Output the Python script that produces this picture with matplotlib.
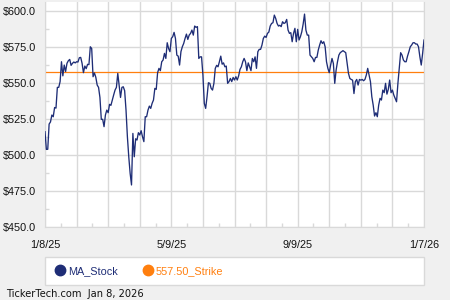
import numpy as np
import matplotlib
matplotlib.use('Agg')
from matplotlib import pyplot as plt
from matplotlib.lines import Line2D
from matplotlib.patches import Rectangle

plt.rcParams['font.family'] = ['Liberation Sans', 'DejaVu Sans']

# MA closing prices, 1/8/25 .. 1/7/26
close = [516.2, 503.9, 504.0, 521.5, 523.0, 527.8, 526.6, 533.0, 532.6, 547.0,
         547.0, 551.0, 564.8, 555.0, 562.5, 558.0, 563.7, 565.5, 566.4, 562.3,
         563.7, 564.6, 564.0, 564.8, 564.6, 567.6, 567.8, 563.7, 557.2, 561.8,
         560.0, 563.0, 562.8, 575.2, 574.0, 554.4, 557.0, 554.0, 548.6, 547.0,
         540.0, 524.8,
         524.8, 519.7, 527.8, 531.2, 529.4, 535.2, 534.5, 538.2, 541.7, 545.1,
         547.0, 556.7, 548.6, 540.0, 547.0, 547.4, 544.7, 531.2, 512.7, 498.8,
         487.3, 479.2, 515.0, 498.8, 511.3, 510.4, 515.5, 513.9, 516.9, 512.7,
         509.3, 526.6, 526.6, 531.2, 534.0, 532.4, 535.9, 538.2, 546.3, 545.6,
         557.2, 560.2, 558.6, 564.8, 566.0, 570.6,
         567.1, 578.0, 574.0, 571.8, 581.0, 582.2, 585.2, 581.0, 569.4, 568.7,
         562.5, 571.8, 575.2, 577.5, 581.0, 584.0, 580.3, 583.3, 584.5, 586.8,
         583.3, 589.6, 588.7, 589.2, 567.1, 568.2, 568.2, 555.6, 535.9, 532.4,
         540.5, 550.2, 549.8, 546.3, 545.1, 549.8, 560.2, 562.3, 561.3, 564.8,
         568.7, 563.1, 564.0, 561.3, 561.8, 549.8,
         551.0, 553.2, 551.0, 553.9, 552.1, 554.4, 552.1, 554.9, 559.5, 561.3,
         564.8, 567.1, 564.8, 558.6, 564.0, 561.3, 558.6, 567.1, 564.8, 568.2,
         560.2, 571.8, 573.4, 573.4, 576.4, 581.0, 582.6, 581.7, 584.5, 585.4,
         589.6, 591.4, 591.9, 597.2, 594.9, 591.4, 589.6, 590.1, 589.2, 592.6,
         591.4, 591.9, 594.2, 586.8, 584.5, 585.0, 578.7,
         584.5, 588.0, 578.7, 587.3, 579.9, 582.2, 585.6, 591.0, 597.9, 586.8,
         583.3, 583.3, 569.4, 568.3, 567.1, 564.8, 567.8, 567.8, 572.9, 576.4,
         579.4, 577.5, 578.7, 575.2, 564.8, 560.2, 557.2, 562.5, 567.1, 563.6,
         549.8, 559.0, 564.8, 569.4, 571.1, 571.8, 572.5, 571.8, 571.1, 563.7,
         556.7, 553.2, 552.5, 552.0, 542.7, 551.0, 552.5,
         548.6, 552.5, 552.0, 552.5, 551.6, 552.5, 555.6, 560.2, 555.6, 551.0,
         540.5, 534.7, 527.1, 529.4, 526.6, 534.7, 539.4, 538.2, 545.1, 543.3,
         549.8, 542.3, 545.6, 552.1, 543.3, 545.1, 541.7, 539.4, 537.0, 549.8,
         560.2, 571.1, 569.4, 566.0, 564.8, 564.8, 568.7, 571.8, 575.2, 576.4,
         578.0, 578.0, 577.1, 577.1, 575.2, 568.2, 562.5, 570.6, 579.9]
strike = 557.50

x_labels = ['1/8/25', '5/9/25', '9/9/25', '1/7/26']
y_ticks = [450, 475, 500, 525, 550, 575, 600]

navy = '#1e2d76'
orange = '#ff7f0e'
grid_c = '#d9d9d9'

fig = plt.figure(figsize=(4.5, 3), dpi=100, facecolor='#f0f0f0')
ax = fig.add_axes([45/450, 1-227/300, 379/450, 225/300])
ax.set_facecolor('white')

n = len(close)
x = np.arange(n)
ax.plot(x, close, color=navy, lw=0.95, zorder=3)
ax.axhline(strike, color=orange, lw=0.9, zorder=2)

ax.set_xlim(0, n-1)
ax.set_ylim(450, 606.3)

# 12 monthly gridlines, labels on every 4th
major = np.linspace(0, n-1, 13)
ax.set_xticks(major)
ax.set_xticklabels([x_labels[i//4] if i % 4 == 0 else '' for i in range(13)])
ax.set_xticks((major[:-1] + major[1:]) / 2, minor=True)
ax.set_yticks(y_ticks)
ax.set_yticklabels(['$%.1f' % v for v in y_ticks])
ax.set_yticks(np.array(y_ticks[:-1]) + 12.5, minor=True)

ax.grid(True, which='major', color=grid_c, lw=1.0, zorder=0)
ax.tick_params(which='major', length=0, labelsize=7.8, colors='#111111')
ax.tick_params(axis='y', which='major', pad=6.5)
ax.tick_params(axis='x', which='major', pad=9)
ax.tick_params(which='minor', direction='in', length=3, color=grid_c, width=1)

for s in ['left', 'bottom', 'right']:
    ax.spines[s].set_color(grid_c)
ax.spines['top'].set_visible(False)

# legend box
fig.patches.append(Rectangle((45/450, 1-285/300), 379/450, 28/300,
                             transform=fig.transFigure, facecolor='white',
                             edgecolor=grid_c, lw=1.0))
handles = [Line2D([], [], ls='', marker='o', ms=7.5, color=navy),
           Line2D([], [], ls='', marker='o', ms=7.5, color=orange)]
fig.legend(handles, ['MA_Stock', '557.50_Strike'], ncol=2, frameon=False,
           loc='center left', bbox_to_anchor=(46/450, 1-271/300),
           fontsize=7.8, handlelength=0.8, handletextpad=0.3,
           columnspacing=2.4, labelcolor='markerfacecolor')

fig.text(6/450, 1-294/300, 'TickerTech.com  Jan 8, 2026', fontsize=7.1,
         family='DejaVu Sans', va='center', ha='left', color='#111111')

fig.savefig('out.png', dpi=100, facecolor=fig.get_facecolor())
